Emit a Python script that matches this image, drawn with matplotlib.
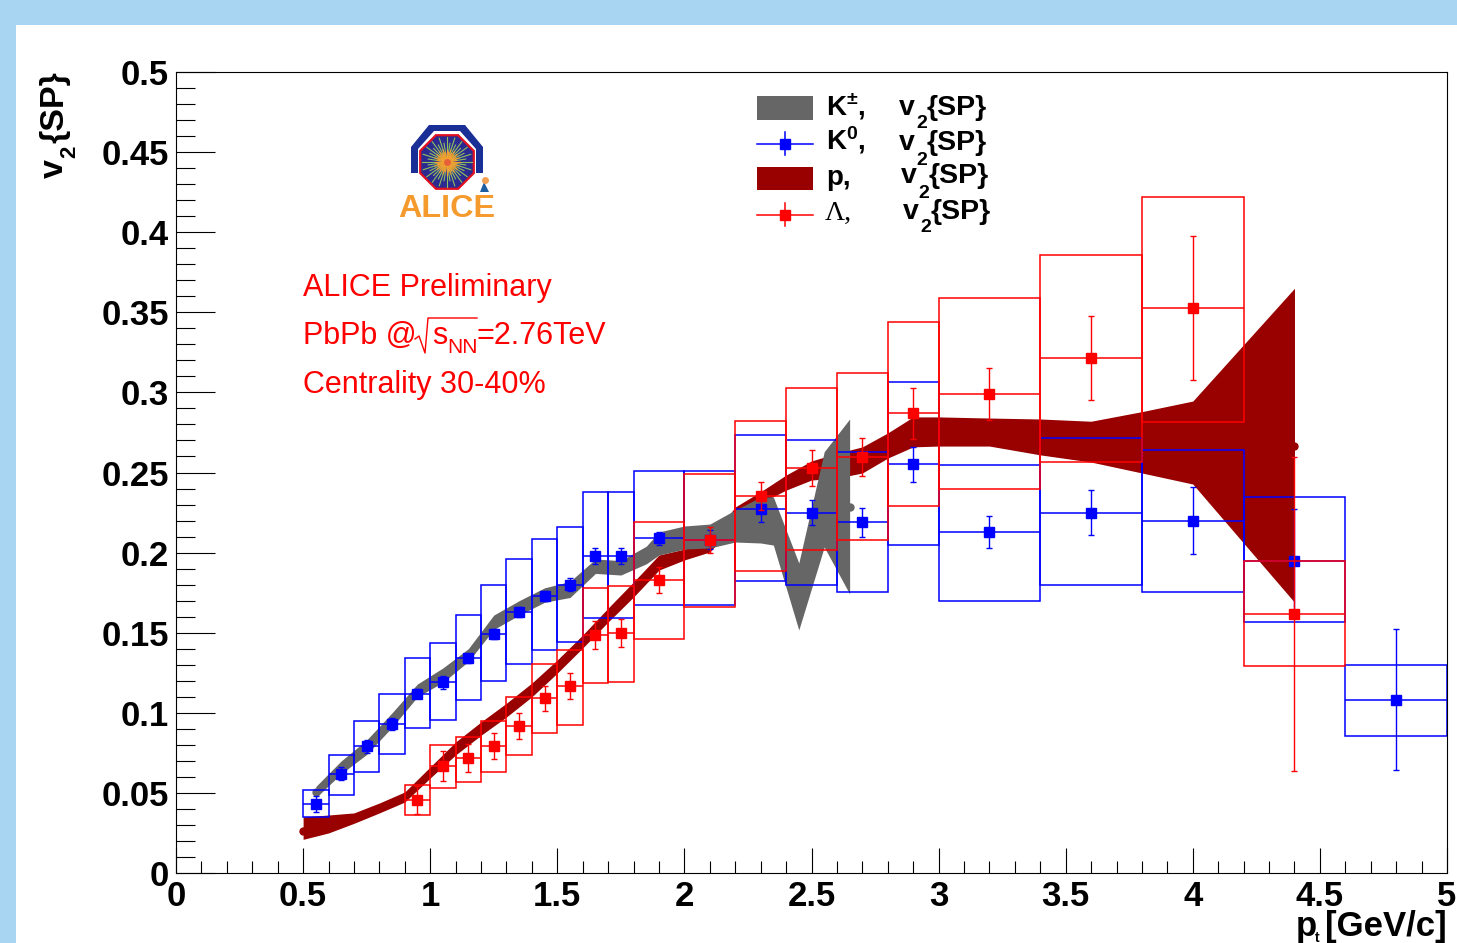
import numpy as np
import matplotlib
matplotlib.use("Agg")
import matplotlib.pyplot as plt
from matplotlib.patches import Polygon, Rectangle
from matplotlib.ticker import MultipleLocator

plt.rcParams['font.family'] = ['Liberation Sans', 'DejaVu Sans']
plt.rcParams['mathtext.fontset'] = 'custom'
plt.rcParams['mathtext.rm'] = 'Liberation Sans'
plt.rcParams['mathtext.bf'] = 'Liberation Sans:bold'
plt.rcParams['mathtext.default'] = 'regular'

# K0 v2{SP}
k0_edges = [0.5, 0.6, 0.7, 0.8, 0.9, 1.0, 1.1, 1.2, 1.3, 1.4, 1.5, 1.6, 1.7, 1.8,
            2.0, 2.2, 2.4, 2.6, 2.8, 3.0, 3.4, 3.8, 4.2, 4.6, 5.0]
k0_y = [0.043, 0.062, 0.079, 0.093, 0.112, 0.119, 0.134, 0.149, 0.163, 0.173, 0.180, 0.198,
        0.198, 0.209, 0.208, 0.227, 0.225, 0.219, 0.255, 0.213, 0.225, 0.220, 0.195, 0.108]
k0_stat = [0.005, 0.004, 0.004, 0.004, 0.003, 0.004, 0.003, 0.003, 0.003, 0.003, 0.004, 0.005,
           0.005, 0.004, 0.006, 0.008, 0.008, 0.009, 0.011, 0.010, 0.014, 0.021, 0.032, 0.044]
k0_top = [0.052, 0.0737, 0.095, 0.112, 0.134, 0.1436, 0.161, 0.180, 0.196, 0.2085, 0.216, 0.238,
          0.238, 0.251, 0.251, 0.2734, 0.270, 0.263, 0.3065, 0.2547, 0.2715, 0.264, 0.2347, 0.130]
k0_bot = [0.035, 0.049, 0.063, 0.074, 0.0905, 0.0955, 0.108, 0.120, 0.1305, 0.139, 0.144, 0.159,
          0.159, 0.167, 0.167, 0.182, 0.180, 0.1755, 0.2047, 0.170, 0.180, 0.1755, 0.1567, 0.0855]

# Lambda v2{SP}
la_edges = [0.9, 1.0, 1.1, 1.2, 1.3, 1.4, 1.5, 1.6, 1.7, 1.8,
            2.0, 2.2, 2.4, 2.6, 2.8, 3.0, 3.4, 3.8, 4.2, 4.6]
la_y = [0.0456, 0.0668, 0.0718, 0.0793, 0.0918, 0.109, 0.1167, 0.1486, 0.1498, 0.183,
        0.208, 0.2353, 0.2528, 0.2597, 0.287, 0.299, 0.3215, 0.3527, 0.1617]
la_stat = [0.009, 0.0095, 0.009, 0.008, 0.008, 0.008, 0.008, 0.009, 0.009, 0.008,
           0.008, 0.009, 0.011, 0.012, 0.016, 0.016, 0.026, 0.045, 0.098]
la_top = [0.055, 0.080, 0.085, 0.095, 0.110, 0.1305, 0.139, 0.178, 0.179, 0.219,
          0.249, 0.282, 0.3027, 0.312, 0.344, 0.359, 0.3858, 0.422, 0.1948]
la_bot = [0.036, 0.053, 0.0568, 0.063, 0.0737, 0.0874, 0.0924, 0.1186, 0.119, 0.146,
          0.166, 0.1885, 0.2016, 0.2079, 0.229, 0.2397, 0.2566, 0.2815, 0.129]

# charged kaon band
kch_x = [0.55, 0.65, 0.75, 0.85, 0.95, 1.05, 1.15, 1.25, 1.35, 1.45, 1.55, 1.65, 1.75, 1.85,
         1.9, 2.0, 2.1, 2.2, 2.3, 2.35, 2.45, 2.55, 2.65]
kch_hi = [0.054, 0.070, 0.083, 0.100, 0.118, 0.128, 0.140, 0.161, 0.170, 0.178, 0.182, 0.196,
          0.195, 0.204, 0.2129, 0.2166, 0.2178, 0.2266, 0.2347, 0.2347, 0.1935, 0.263, 0.2834]
kch_lo = [0.047, 0.062, 0.074, 0.091, 0.110, 0.119, 0.132, 0.152, 0.161, 0.169, 0.172, 0.187,
          0.186, 0.193, 0.1985, 0.2022, 0.2029, 0.2066, 0.206, 0.2047, 0.1517, 0.2035, 0.1742]

# proton band
p_x = [0.5, 0.6, 0.7, 0.8, 0.9, 1.0, 1.1, 1.2, 1.3, 1.4, 1.5, 1.6, 1.7, 1.8, 1.9, 2.0, 2.1, 2.2,
       2.3, 2.4, 2.5, 2.6, 2.7, 2.8, 2.9, 3.0, 3.2, 3.4, 3.6, 3.8, 4.0, 4.4]
p_hi = [0.035, 0.0362, 0.0375, 0.0437, 0.0506, 0.0662, 0.0818, 0.0943, 0.106, 0.1186, 0.133,
        0.1486, 0.1654, 0.1817, 0.1985, 0.2022, 0.2079, 0.2285, 0.238, 0.2484, 0.2572, 0.262,
        0.266, 0.2747, 0.2847, 0.2847, 0.284, 0.2834, 0.282, 0.288, 0.2946, 0.365]
p_lo = [0.021, 0.025, 0.031, 0.0375, 0.0443, 0.0593, 0.0737, 0.086, 0.0974, 0.110, 0.1248,
        0.1405, 0.1567, 0.1723, 0.1891, 0.1954, 0.2004, 0.218, 0.231, 0.239, 0.2453, 0.2465,
        0.2497, 0.259, 0.266, 0.2665, 0.2665, 0.261, 0.2565, 0.2497, 0.2428, 0.169]

# band end dots
kch_dots = ([0.55, 2.65], [0.0505, 0.2285])
p_dots = ([0.5, 4.4], [0.0265, 0.2665])

x_ticks = [0, 0.5, 1, 1.5, 2, 2.5, 3, 3.5, 4, 4.5, 5]
x_labels = ['0', '0.5', '1', '1.5', '2', '2.5', '3', '3.5', '4', '4.5', '5']
y_ticks = [0, 0.05, 0.1, 0.15, 0.2, 0.25, 0.3, 0.35, 0.4, 0.45, 0.5]
y_labels = ['0', '0.05', '0.1', '0.15', '0.2', '0.25', '0.3', '0.35', '0.4', '0.45', '0.5']

W, H = 1457, 943
GREY = '#666666'
DARK = '#990000'
BLUE = '#0000ff'
RED = '#ff0000'


def draw_points(ax, edges, y, stat, top, bot, color, z):
    """Systematic boxes, x width line, stat errors and markers."""
    edges = np.array(edges)
    xc = (edges[:-1] + edges[1:]) / 2
    for i in range(len(y)):
        ax.add_patch(Rectangle((edges[i], bot[i]), edges[i + 1] - edges[i], top[i] - bot[i],
                               fill=False, ec=color, lw=1.1, zorder=z))
    ax.hlines(y, edges[:-1], edges[1:], color=color, lw=1.1, zorder=z)
    ax.errorbar(xc, y, yerr=stat, fmt='s', ms=6.5, color=color, ecolor=color, elinewidth=1.0,
                capsize=2.3, capthick=1.0, zorder=z + 0.5)


def draw_logo(ov):
    ang = np.radians(np.arange(0, 360, 45) + 22.5)
    ov.add_patch(Polygon([(411, 173), (411, 147), (429, 125), (465, 125), (483, 147), (483, 173),
                          (476, 173), (476, 149), (460, 131), (434, 131), (418, 149), (418, 173)],
                         fc='#1a2f96', ec='none', zorder=1))
    octagon = np.c_[447 + 29 * np.cos(ang), 162 + 29 * np.sin(ang)]
    ov.add_patch(Polygon(octagon, fc='#2a2a90', ec='#e01020', lw=1.6, zorder=2))
    for a in np.radians(np.arange(0, 360, 9)):
        r = 25 if int(np.degrees(a)) % 18 == 0 else 19
        ov.plot([447, 447 + r * np.cos(a)], [162, 162 + r * np.sin(a)], color='#8fc060', lw=0.8,
                zorder=3)
        ov.plot([447, 447 + 0.5 * r * np.cos(a)], [162, 162 + 0.5 * r * np.sin(a)],
                color='#f0a030', lw=0.9, zorder=4)
    ov.plot([447], [162], 'o', ms=4, color='#e8603a', zorder=4)
    ov.add_patch(Polygon([(480, 192), (484, 182), (489, 192)], fc='#1d5fa0', ec='none', zorder=3))
    ov.plot([485], [180], 'o', ms=4, color='#f2a050', zorder=3)
    ov.text(446.5, 217, 'ALICE', color='#f59a2c', fontsize=23.3, fontweight='bold', ha='center',
            va='baseline', zorder=5)


def legend_v2(ov, x, y, sub_drop):
    ov.text(x, y, 'v', fontsize=20.5, fontweight='bold', va='baseline')
    ov.text(x + 17, y + sub_drop, '2', fontsize=14, fontweight='bold', va='baseline')
    ov.text(x + 28, y, '{SP}', fontsize=20.5, fontweight='bold', va='baseline')


fig = plt.figure(figsize=(W / 100, H / 100), dpi=100, facecolor='#a8d5f2')
fig.add_artist(Rectangle((16 / W, 0), 1 - 16 / W, 1 - 25 / H, transform=fig.transFigure,
                         fc='white', ec='none', zorder=-5))

ax = fig.add_axes([176 / W, 1 - 873 / H, (1447 - 176) / W, (873 - 72) / H])
ax.set_xlim(0, 5)
ax.set_ylim(0, 0.5)

ax.fill_between(p_x, p_lo, p_hi, color=DARK, lw=0, zorder=1)
ax.plot(p_dots[0], p_dots[1], 'o', ms=5, color=DARK, zorder=1, clip_on=False)
ax.fill_between(kch_x, kch_lo, kch_hi, color=GREY, lw=0, zorder=2)
ax.plot(kch_dots[0], kch_dots[1], 'o', ms=5, color=GREY, zorder=2)

draw_points(ax, k0_edges, k0_y, k0_stat, k0_top, k0_bot, BLUE, 3)
draw_points(ax, la_edges, la_y, la_stat, la_top, la_bot, RED, 4)

ax.set_xticks(x_ticks, x_labels, fontsize=25, fontweight='bold')
ax.set_yticks(y_ticks, y_labels, fontsize=25, fontweight='bold')
ax.xaxis.set_minor_locator(MultipleLocator(0.1))
ax.yaxis.set_minor_locator(MultipleLocator(0.01))
ax.tick_params(axis='x', which='major', direction='in', length=18, width=0.8, pad=5)
ax.tick_params(axis='x', which='minor', direction='in', length=9, width=0.8)
ax.tick_params(axis='y', which='major', direction='in', length=28, width=0.8, pad=5)
ax.tick_params(axis='y', which='minor', direction='in', length=14, width=0.8)
for s in ax.spines.values():
    s.set_linewidth(0.8)

# overlay in picture pixels for the logo, notes and hand placed legend
ov = fig.add_axes([0, 0, 1, 1], zorder=10)
ov.set_xlim(0, W)
ov.set_ylim(H, 0)
ov.axis('off')

draw_logo(ov)

ov.text(303, 296, 'ALICE Preliminary', color=RED, fontsize=22, va='baseline')
ov.text(303, 344, 'PbPb @', color=RED, fontsize=22, va='baseline')
ov.plot([415, 419, 425, 428, 477], [339, 336, 353, 318, 318], color=RED, lw=1.0)
ov.text(432, 344, 's', color=RED, fontsize=22, va='baseline')
ov.text(447, 353, 'NN', color=RED, fontsize=15, va='baseline')
ov.text(477, 344, '=2.76TeV', color=RED, fontsize=22, va='baseline')
ov.text(303, 393, 'Centrality 30-40%', color=RED, fontsize=22, va='baseline')

ov.add_patch(Rectangle((757, 96), 56, 24, fc=GREY, ec='none'))
ov.add_patch(Rectangle((757, 167), 56, 23, fc=DARK, ec='none'))
for yy, c in [(143.5, BLUE), (214.5, RED)]:
    ov.plot([757, 813], [yy, yy], color=c, lw=1.1)
    ov.plot([785, 785], [yy - 11.5, yy + 11.5], color=c, lw=1.1)
    ov.plot([785], [yy], 's', ms=6.5, color=c)

ov.text(826, 115, r'K$^{\pm}$,', fontsize=20, fontweight='bold', va='baseline')
ov.text(826, 150, r'K$^{\mathbf{0}}$,', fontsize=20, fontweight='bold', va='baseline')
ov.text(826, 185, 'p,', fontsize=20, fontweight='bold', va='baseline')
ov.text(825, 220, '\u039b,', fontsize=20, family=['Liberation Serif'], va='baseline')
for xx, yy, drop in [(899, 115, 13), (899, 150, 15), (901, 183, 15), (903, 219, 13)]:
    legend_v2(ov, xx, yy, drop)

# x title, the t subscript sits right on the picture edge
ov.text(1296, 936, 'p', fontsize=25, fontweight='bold', va='baseline')
ov.text(1315, 942, 't', fontsize=10, fontweight='bold', va='baseline')
ov.text(1447, 936, '[GeV/c]', fontsize=25, fontweight='bold', ha='right', va='baseline')

# y title
ylab = dict(rotation=90, rotation_mode='anchor', ha='left', va='baseline', fontweight='bold')
ov.text(63, 178, 'v', fontsize=24.5, **ylab)
ov.text(75, 158, '2', fontsize=16, **ylab)
ov.text(63, 143, '{SP}', fontsize=24.5, **ylab)

fig.savefig('out.png', dpi=100)
